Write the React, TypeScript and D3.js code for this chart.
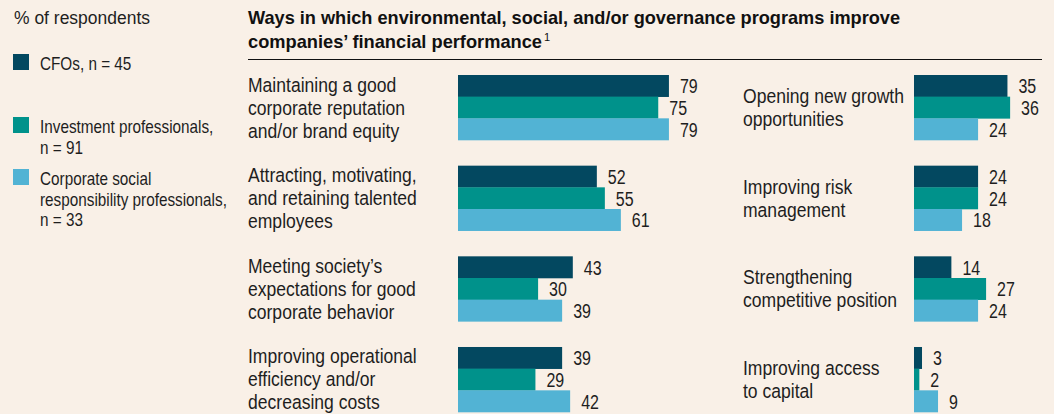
import * as d3 from "d3";
import React from "react";

const seriesNames = ["CFOs", "Investment", "CSR"];
const seriesColors = ["#034860", "#00928b", "#52b3d4"];

const legendLabels = [
  ["CFOs, n = 45"],
  ["Investment professionals,", "n = 91"],
  ["Corporate social", "responsibility professionals,", "n = 33"],
];

const categories = [
  ["Maintaining a good", "corporate reputation", "and/or brand equity"],
  ["Attracting, motivating,", "and retaining talented", "employees"],
  ["Meeting society\u2019s", "expectations for good", "corporate behavior"],
  ["Improving operational", "efficiency and/or", "decreasing costs"],
  ["Opening new growth", "opportunities"],
  ["Improving risk", "management"],
  ["Strengthening", "competitive position"],
  ["Improving access", "to capital"],
];

const cfoValues = [79, 52, 43, 39, 35, 24, 14, 3];
const investValues = [75, 55, 30, 29, 36, 24, 27, 2];
const csrValues = [79, 61, 39, 42, 24, 18, 24, 9];

const W = 1054;
const H = 414;
const FONT = "'Liberation Sans', Arial, sans-serif";
const BG = "#f9f0e7";

// condensed text: regular font squeezed horizontally
const NText: React.FC<{
  x: number;
  y: number;
  s: number;
  size: number;
  weight?: string;
  fill?: string;
  dy?: string;
  children: React.ReactNode;
}> = ({ x, y, s, size, weight = "normal", fill = "#1e1e1e", dy, children }) => (
  <text
    transform={`translate(${x},${y}) scale(${s},1)`}
    fontSize={size}
    fontWeight={weight}
    fill={fill}
    dy={dy}
  >
    {children}
  </text>
);

const App: React.FC = () => {
  const values = [cfoValues, investValues, csrValues];

  const row = d3
    .scaleBand<number>()
    .domain([0, 1, 2, 3])
    .range([75, 412])
    .paddingInner(0.283)
    .paddingOuter(0);

  const sub = d3
    .scaleBand<string>()
    .domain(seriesNames)
    .range([0, row.bandwidth()])
    .padding(0);

  const x = d3.scaleLinear().domain([0, 100]).range([0, 267]);

  const columns = [
    { labelX: 248, barX: 458 },
    { labelX: 743, barX: 914 },
  ];

  const lineH = 23;

  return (
    <svg
      width={W}
      height={H}
      style={{ position: "absolute", left: 0, top: 0 }}
      fontFamily={FONT}
    >
      <rect width={W} height={H} fill={BG} />

      {/* legend */}
      <NText x={14} y={24} s={0.92} size={19}>
        % of respondents
      </NText>
      {legendLabels.map((lines, i) => {
        const top = [54, 117, 169][i];
        return (
          <g key={i}>
            <rect x={13} y={top} width={16} height={16} fill={seriesColors[i]} />
            {lines.map((l, j) => (
              <NText key={j} x={40} y={top + 16 + j * 20.5} s={0.85} size={18}>
                {l}
              </NText>
            ))}
          </g>
        );
      })}

      {/* title */}
      <text
        x={248}
        y={24}
        fontSize={18.5}
        fontWeight="bold"
        fill="#111"
        textLength={652}
        lengthAdjust="spacingAndGlyphs"
      >
        Ways in which environmental, social, and/or governance programs improve
      </text>
      <text
        x={248}
        y={48}
        fontSize={18.5}
        fontWeight="bold"
        fill="#111"
        textLength={294}
        lengthAdjust="spacingAndGlyphs"
      >
        companies{"\u2019"} financial performance
      </text>
      <text x={544} y={41} fontSize={11} fill="#111">
        1
      </text>
      <line x1={248} x2={1042} y1={59.5} y2={59.5} stroke="#111" strokeWidth={1} />

      {categories.map((lines, ci) => {
        const col = columns[Math.floor(ci / 4)];
        const r = ci % 4;
        const y0 = row(r)!;
        const mid = y0 + row.bandwidth() / 2;
        const firstBase = mid + 7 - ((lines.length - 1) * lineH) / 2;
        return (
          <g key={ci}>
            {lines.map((l, j) => (
              <NText key={j} x={col.labelX} y={firstBase + j * lineH} s={0.9} size={19.5}>
                {l}
              </NText>
            ))}
            {seriesNames.map((s, si) => {
              const v = values[si][ci];
              const by = y0 + sub(s)!;
              return (
                <g key={s}>
                  <rect
                    x={col.barX}
                    y={by}
                    width={x(v)}
                    height={sub.bandwidth() + 0.3}
                    fill={seriesColors[si]}
                  />
                  <NText
                    x={col.barX + x(v) + 11}
                    y={by + sub.bandwidth() / 2}
                    dy="0.36em"
                    s={0.78}
                    size={20.5}
                  >
                    {v}
                  </NText>
                </g>
              );
            })}
          </g>
        );
      })}
    </svg>
  );
};

export default App;
